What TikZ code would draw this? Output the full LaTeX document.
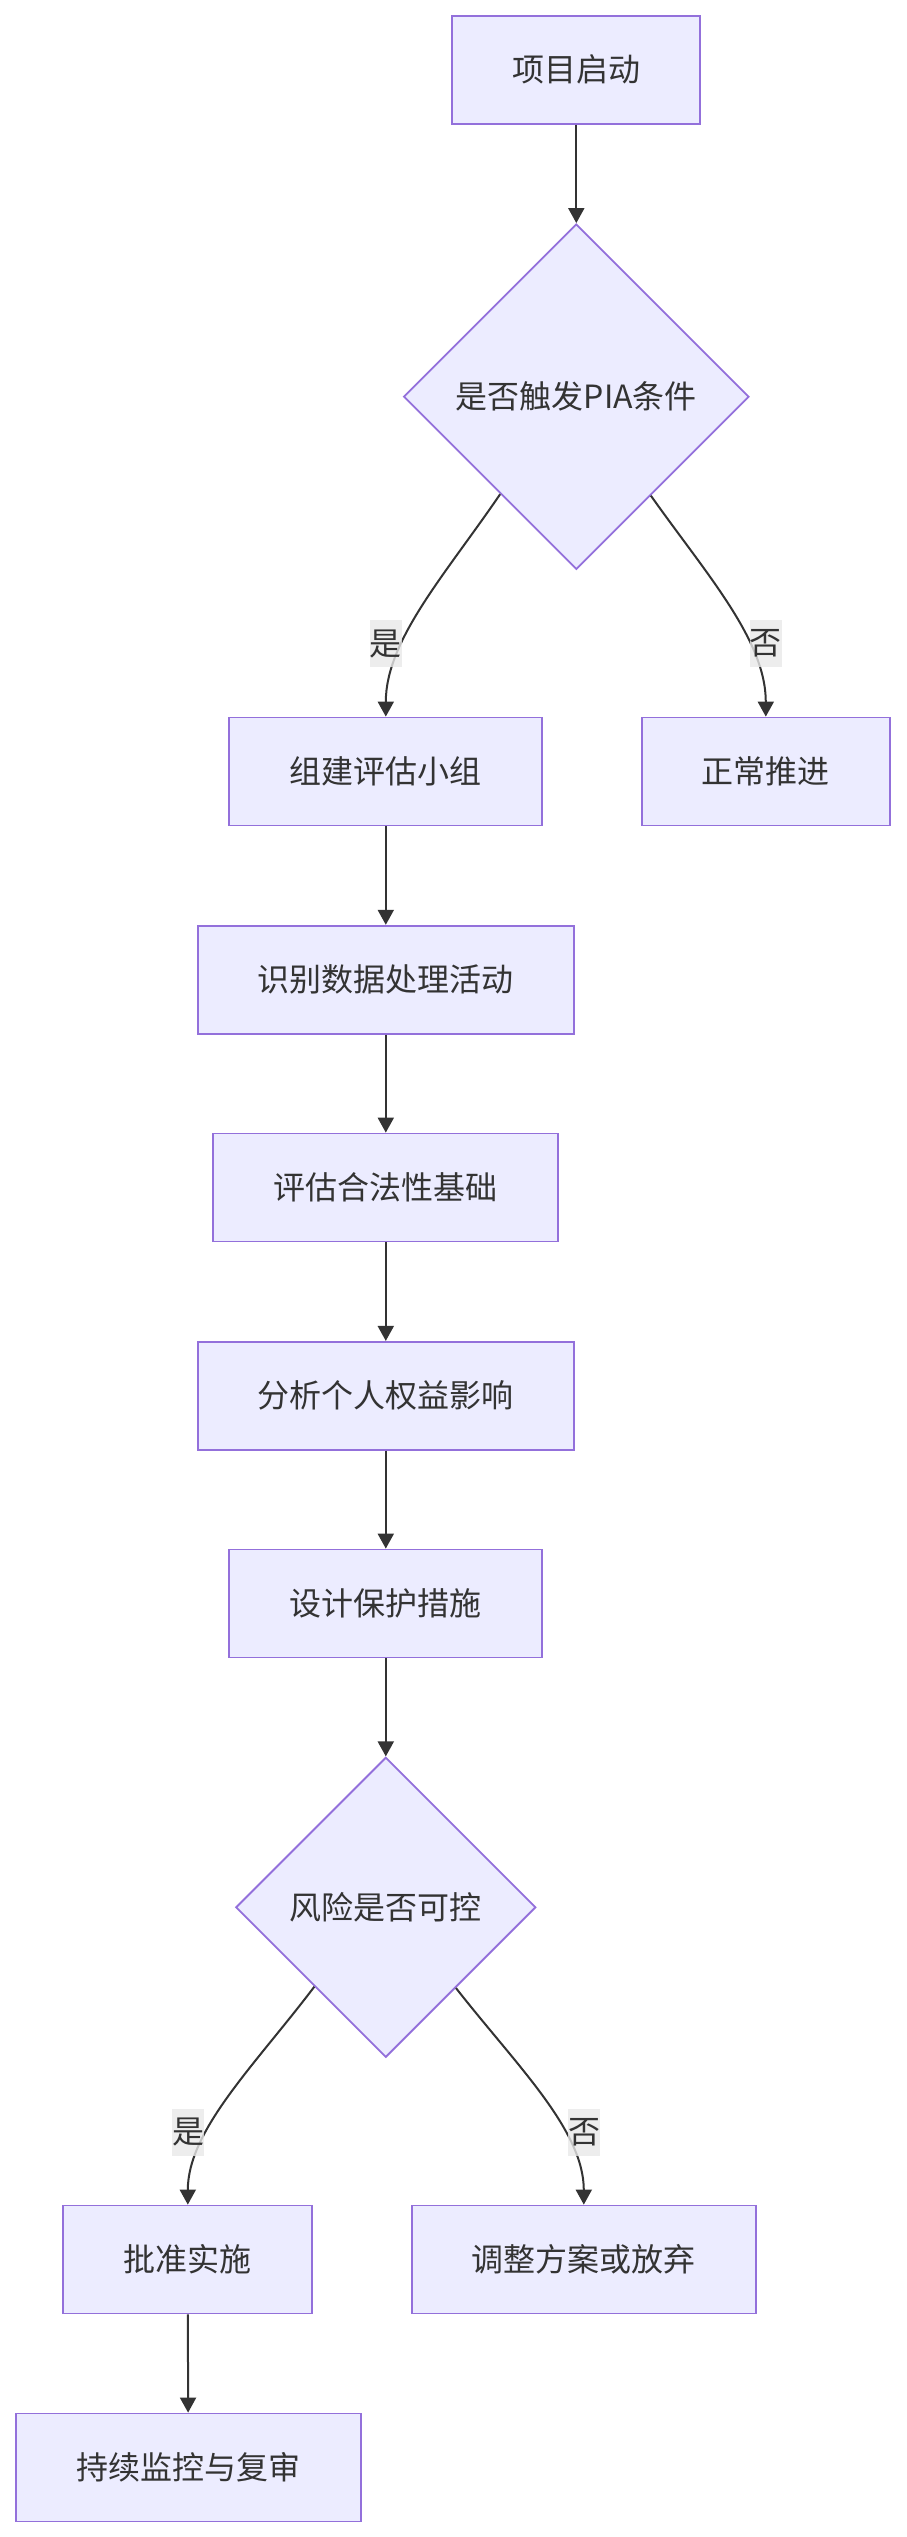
\documentclass[tikz,border=0pt]{standalone}
\usepackage{fontspec}
\setmainfont{Noto Sans CJK SC}
\usetikzlibrary{shapes.geometric,arrows.meta}
\definecolor{nodefill}{HTML}{ECECFF}
\definecolor{nodeline}{HTML}{9370DB}
\definecolor{edgeline}{HTML}{333333}
\definecolor{labelbg}{HTML}{E8E8E8}
\tikzset{
  box/.style={rectangle, draw=nodeline, fill=nodefill, line width=1.8pt, text=edgeline,
    minimum height=108pt, inner sep=0pt, font=\fontsize{32}{38}\selectfont},
  decision/.style={diamond, aspect=1, draw=nodeline, fill=nodefill, line width=1.8pt, text=edgeline,
    inner sep=0pt, font=\fontsize{32}{38}\selectfont},
  elabel/.style={rectangle, fill=labelbg, fill opacity=0.8, text opacity=1, text=edgeline,
    minimum width=32pt, minimum height=47pt, inner sep=0pt, font=\fontsize{32}{38}\selectfont},
  flow/.style={draw=edgeline, line width=2pt, -{Triangle[width=16pt,length=15pt]}}
}
\begin{document}
\begin{tikzpicture}[x=1pt,y=1pt]
\useasboundingbox (0,0) rectangle (906,-2537);
\node[box, minimum width=248pt] (n1) at (576.3,-69.8) {项目启动};
\node[decision, minimum width=345.4pt, minimum height=345.4pt] (d1) at (576.3,-396.7) {是否触发PIA条件};
\node[box, minimum width=313pt] (n2) at (385.8,-771.5) {组建评估小组};
\node[box, minimum width=248pt] (n3) at (765.8,-771.5) {正常推进};
\node[box, minimum width=376pt] (n4) at (385.8,-979.7) {识别数据处理活动};
\node[box, minimum width=345pt] (n5) at (385.8,-1187.5) {评估合法性基础};
\node[box, minimum width=376pt] (n6) at (385.8,-1395.8) {分析个人权益影响};
\node[box, minimum width=313pt] (n7) at (385.8,-1603.5) {设计保护措施};
\node[decision, minimum width=300pt, minimum height=300pt] (d2) at (385.8,-1907.3) {风险是否可控};
\node[box, minimum width=249pt] (n8) at (187.8,-2259.5) {批准实施};
\node[box, minimum width=344pt] (n9) at (583.8,-2259.5) {调整方案或放弃};
\node[box, minimum width=345pt] (n10) at (188.2,-2467.5) {持续监控与复审};

\draw[flow] (n1) -- (d1);
\draw[flow] (d1.232) .. controls (445,-575) and (385.8,-640) .. (n2.north);
\draw[flow] (d1.307) .. controls (707,-575) and (765.8,-640) .. (n3.north);
\draw[flow] (n2) -- (n4);
\draw[flow] (n4) -- (n5);
\draw[flow] (n5) -- (n6);
\draw[flow] (n6) -- (n7);
\draw[flow] (n7) -- (d2);
\draw[flow] (d2.228.5) .. controls (255,-2065) and (187.8,-2130) .. (n8.north);
\draw[flow] (d2.311.4) .. controls (517,-2066) and (583.8,-2130) .. (n9.north);
\draw[flow] (n8) -- (n10);

\node[elabel] (l1) at (385.8,-643.7) {是};
\node[elabel] (l2) at (765.8,-643.7) {否};
\node[elabel] (l3) at (188,-2132) {是};
\node[elabel] (l4) at (584.2,-2132) {否};
\end{tikzpicture}
\end{document}
